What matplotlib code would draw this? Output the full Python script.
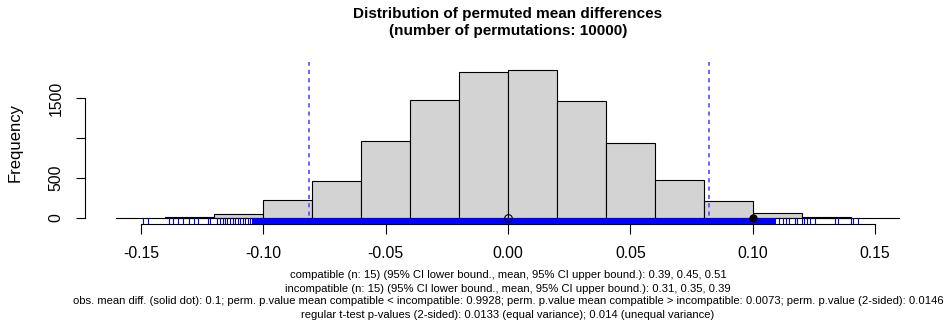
import numpy as np
import matplotlib.pyplot as plt

plt.rcParams['font.family'] = ['Liberation Sans', 'DejaVu Sans']

# histogram of permuted mean differences (bin width 0.02)
bin_edges = [-0.14, -0.12, -0.10, -0.08, -0.06, -0.04, -0.02, 0.00,
             0.02, 0.04, 0.06, 0.08, 0.10, 0.12, 0.14]
counts = [15, 55, 220, 460, 960, 1470, 1830, 1850, 1460, 940, 480, 210, 60, 10]

# individual rug ticks in the tails, and the range where they merge into a band
rug_left = [-0.1490, -0.1472, -0.1385, -0.1370, -0.1350, -0.1330, -0.1302,
            -0.1283, -0.1268, -0.1226, -0.1218, -0.1188, -0.1177, -0.1166,
            -0.1157, -0.1147, -0.1136, -0.1125, -0.1116, -0.1105, -0.1095,
            -0.1084, -0.1074, -0.1064, -0.1054]
rug_right = [0.1109, 0.1123, 0.1136, 0.1150, 0.1173, 0.1180, 0.1200, 0.1210,
             0.1220, 0.1234, 0.1255, 0.1336, 0.1347, 0.1400, 0.1411, 0.1429]
rug_dense = (-0.1046, 0.1097)

ci_bounds = [-0.0815, 0.0820]
perm_mean = 0.0
obs_diff = 0.1

title = ('Distribution of permuted mean differences\n'
         '(number of permutations: 10000)')
notes = [
    'compatible (n: 15) (95% CI lower bound., mean, 95% CI upper bound.): 0.39, 0.45, 0.51',
    'incompatible (n: 15) (95% CI lower bound., mean, 95% CI upper bound.): 0.31, 0.35, 0.39',
    'obs. mean diff. (solid dot): 0.1; perm. p.value mean compatible < incompatible: 0.9928; '
    'perm. p.value mean compatible > incompatible: 0.0073; perm. p.value (2-sided): 0.0146',
    'regular t-test p-values (2-sided): 0.0133 (equal variance); 0.014 (unequal variance)',
]

fig = plt.figure(figsize=(9.46, 3.31), dpi=100)
ax = fig.add_axes([0.1226, 0.3233, 0.8288, 0.4894])

widths = np.diff(bin_edges)
ax.bar(bin_edges[:-1], counts, width=widths, align='edge',
       color='#d3d3d3', edgecolor='black', linewidth=0.8, zorder=2)
ax.axhline(0, color='black', linewidth=0.8, zorder=3)

# rug along the bottom of the plot region
trans = ax.get_xaxis_transform()
ax.vlines(rug_left + rug_right, 0, 0.035, transform=trans,
          color='blue', linewidth=0.8, zorder=4)
ax.axvspan(rug_dense[0], rug_dense[1], ymin=0, ymax=0.038,
           color='blue', linewidth=0, zorder=4)

for b in ci_bounds:
    ax.axvline(b, color='#4d4dff', linewidth=1.2, linestyle=(0, (2.5, 2.5)),
               zorder=3)

ax.plot([perm_mean], [0], 'o', mfc='none', mec='black', ms=5.5, mew=0.8, zorder=5)
ax.plot([obs_diff], [0], 'o', color='black', ms=5, zorder=5)

ax.set_xlim(-0.1602, 0.1602)
ax.set_ylim(-75, 1950)

for s in ['top', 'right']:
    ax.spines[s].set_visible(False)
ax.spines['bottom'].set_bounds(-0.15, 0.15)
ax.spines['left'].set_position(('outward', 22.3))
ax.spines['left'].set_bounds(0, 1500)
for s in ['bottom', 'left']:
    ax.spines[s].set_linewidth(0.8)

ax.set_xticks([-0.15, -0.10, -0.05, 0.00, 0.05, 0.10, 0.15])
ax.set_xticklabels(['-0.15', '-0.10', '-0.05', '0.00', '0.05', '0.10', '0.15'])
ax.set_yticks([0, 500, 1000, 1500])
ax.set_yticklabels(['0', '500', '', '1500'], rotation=90, va='center')
ax.tick_params(axis='x', length=7.2, width=0.8, pad=8.5, labelsize=11.3)
ax.tick_params(axis='y', length=6.5, width=0.8, pad=9, labelsize=11.3)

fig.text(15 / 946, 0.568, 'Frequency', rotation=90, ha='center', va='center',
         fontsize=12)
fig.text(0.537, 1 - 22.5 / 331, title, ha='center', va='center', fontsize=11,
         fontweight='bold', linespacing=1.25)

note_y = [275.5, 288.5, 301.5, 314.5]
for y, txt in zip(note_y, notes):
    fig.text(0.537, 1 - y / 331, txt, ha='center', va='center', fontsize=8.1)

fig.savefig('out.png', dpi=100)
